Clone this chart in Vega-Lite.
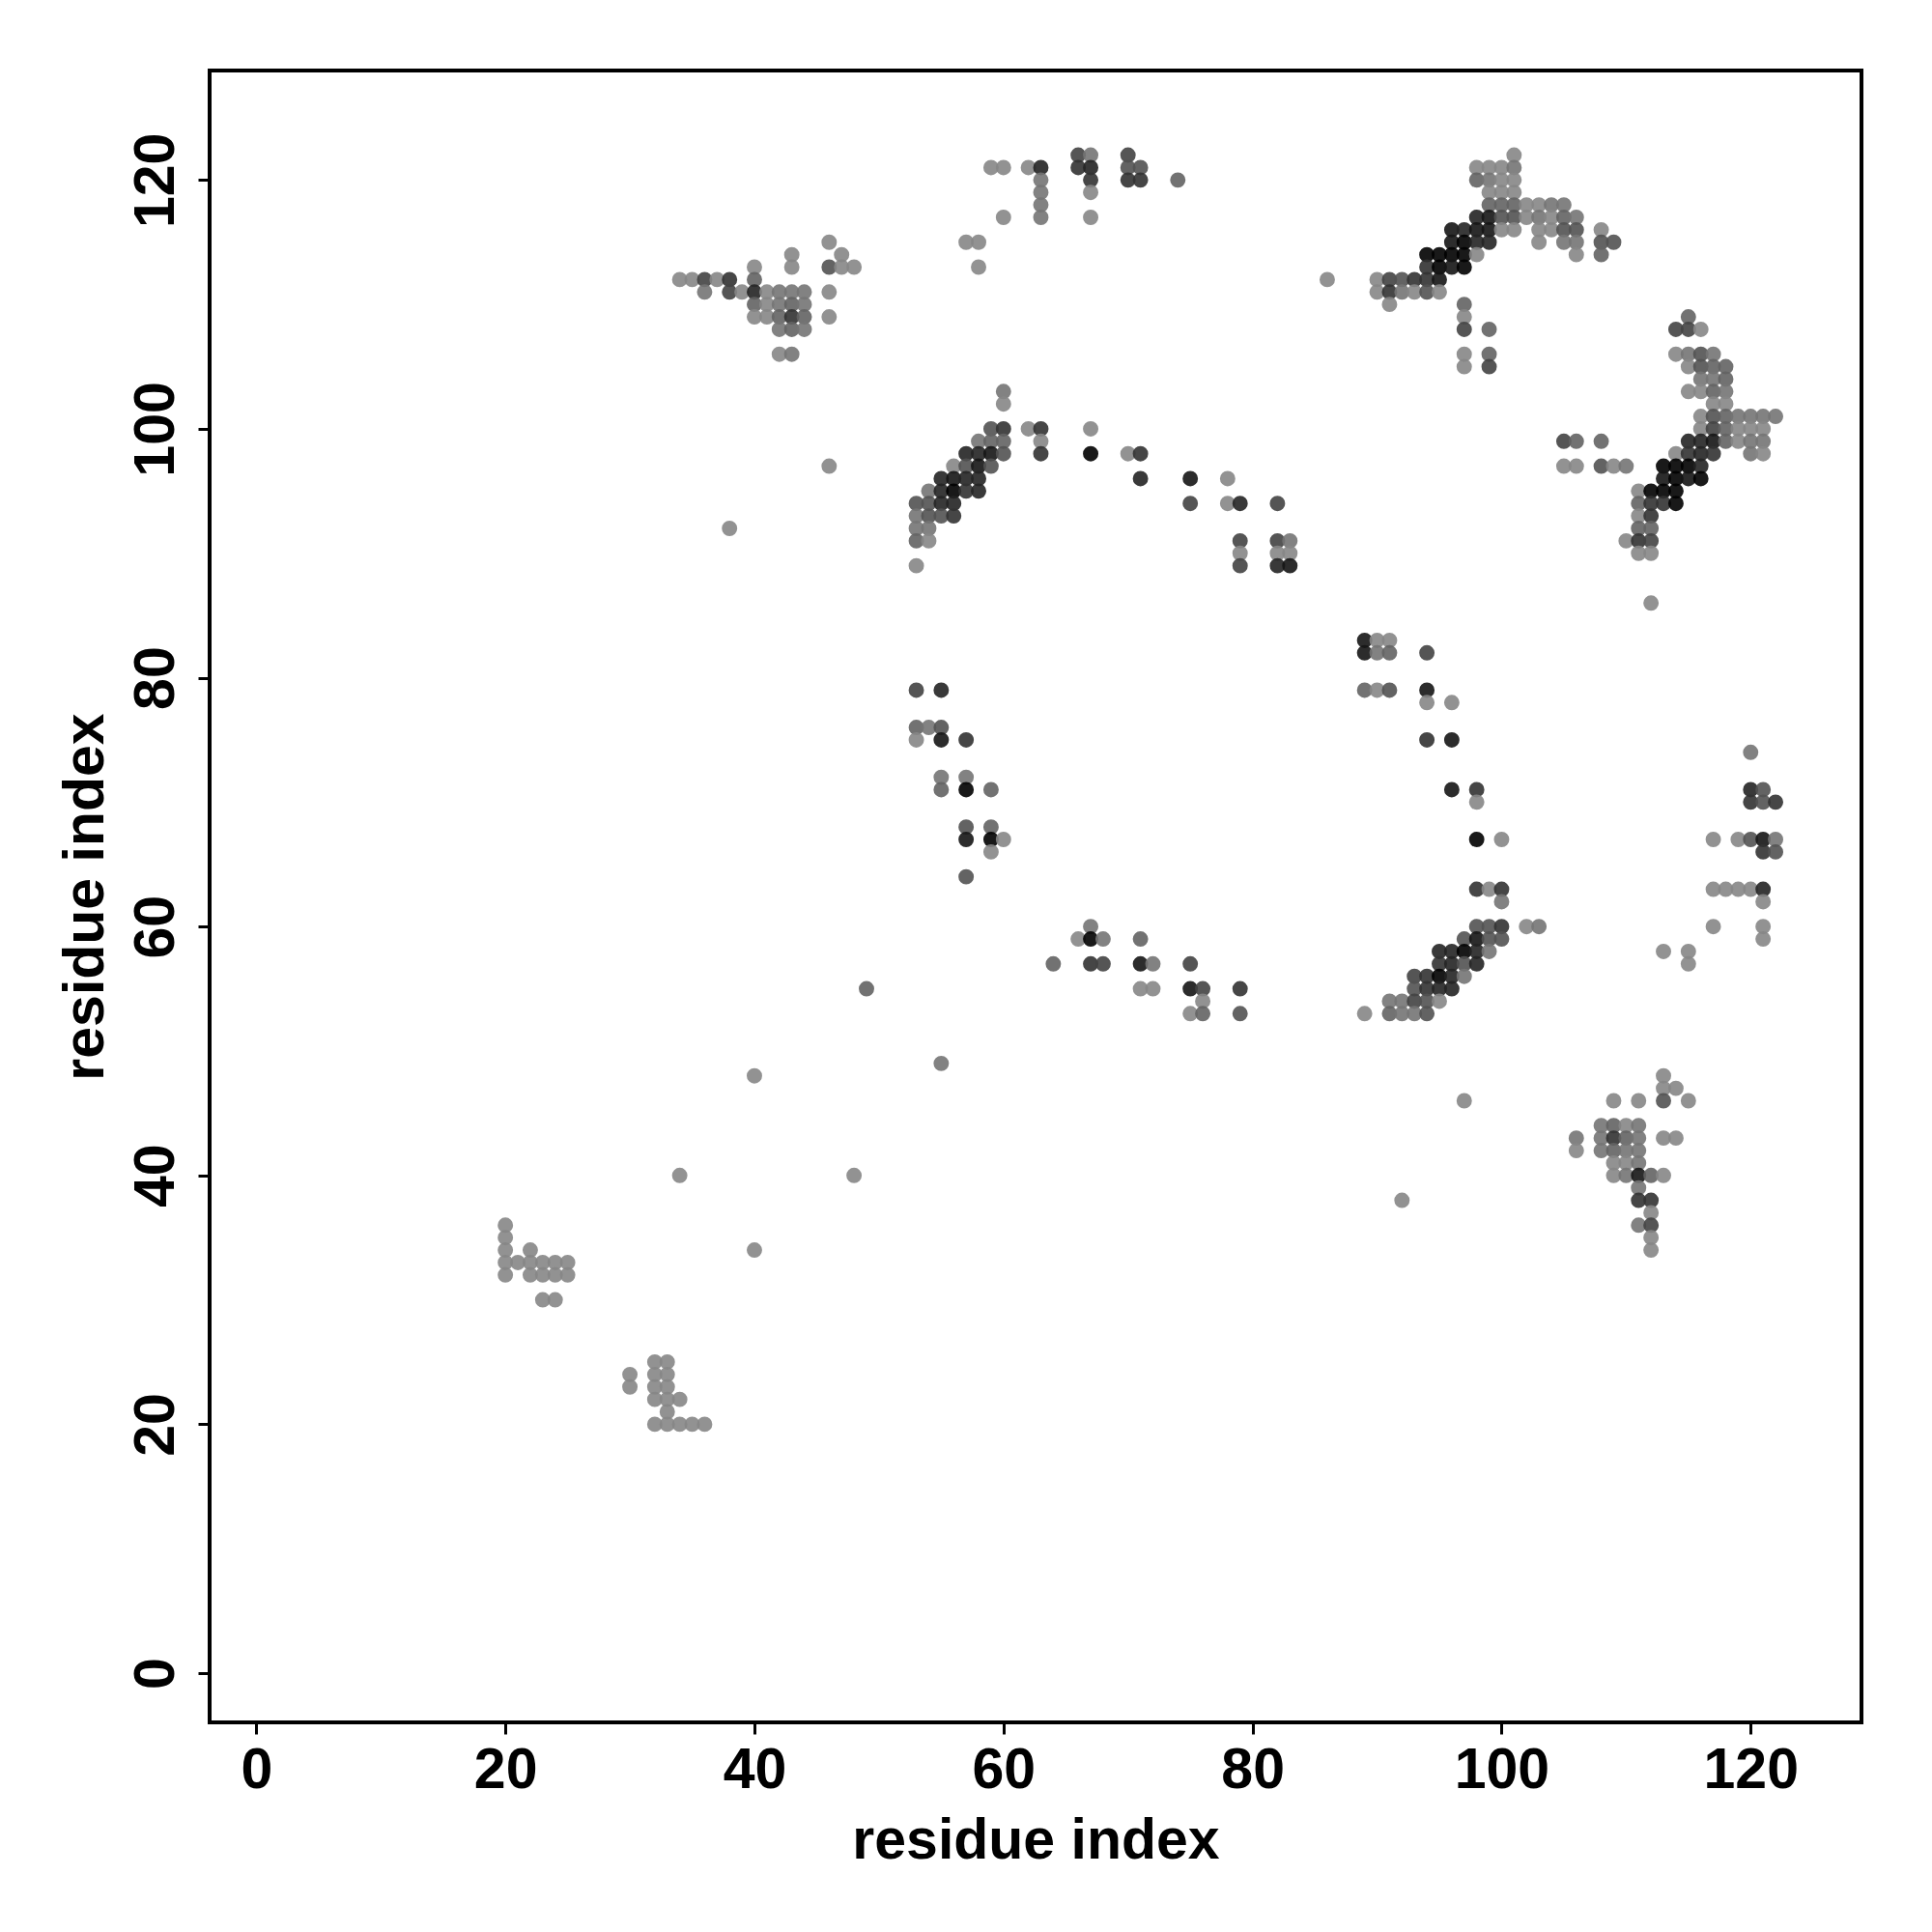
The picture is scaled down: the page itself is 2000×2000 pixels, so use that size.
{"$schema":"https://vega.github.io/schema/vega-lite/v6.json","width":1710,"height":1710,"autosize":{"type":"none"},"padding":{"left":217,"top":73,"right":73,"bottom":217},"background":"white","config":{"view":{"stroke":"black","strokeWidth":4},"font":"Liberation Sans"},
"data":{"values":[
{"x":101,"y":122,"w":1},{"x":98,"y":121,"w":1},{"x":99,"y":121,"w":1},{"x":100,"y":121,"w":1},{"x":101,"y":121,"w":2},{"x":98,"y":120,"w":3},{"x":99,"y":120,"w":2},{"x":100,"y":120,"w":1},{"x":101,"y":120,"w":1},{"x":99,"y":119,"w":1},{"x":100,"y":119,"w":1},{"x":101,"y":119,"w":1},{"x":99,"y":118,"w":3},{"x":100,"y":118,"w":3},{"x":101,"y":118,"w":3},{"x":102,"y":118,"w":1},{"x":103,"y":118,"w":1},{"x":104,"y":118,"w":2},{"x":105,"y":118,"w":2},{"x":98,"y":117,"w":7},{"x":99,"y":117,"w":8},{"x":100,"y":117,"w":4},{"x":101,"y":117,"w":4},{"x":102,"y":117,"w":1},{"x":103,"y":117,"w":2},{"x":104,"y":117,"w":1},{"x":105,"y":117,"w":3},{"x":106,"y":117,"w":2},{"x":96,"y":116,"w":8},{"x":97,"y":116,"w":7},{"x":98,"y":116,"w":8},{"x":99,"y":116,"w":8},{"x":100,"y":116,"w":1},{"x":101,"y":116,"w":1},{"x":103,"y":116,"w":1},{"x":104,"y":116,"w":1},{"x":105,"y":116,"w":4},{"x":106,"y":116,"w":4},{"x":108,"y":116,"w":1},{"x":96,"y":115,"w":8},{"x":97,"y":115,"w":9},{"x":98,"y":115,"w":7},{"x":99,"y":115,"w":7},{"x":103,"y":115,"w":1},{"x":105,"y":115,"w":2},{"x":106,"y":115,"w":2},{"x":108,"y":115,"w":4},{"x":109,"y":115,"w":4},{"x":94,"y":114,"w":9},{"x":95,"y":114,"w":9},{"x":96,"y":114,"w":9},{"x":97,"y":114,"w":9},{"x":98,"y":114,"w":1},{"x":106,"y":114,"w":1},{"x":108,"y":114,"w":3},{"x":94,"y":113,"w":6},{"x":95,"y":113,"w":9},{"x":96,"y":113,"w":8},{"x":97,"y":113,"w":9},{"x":86,"y":112,"w":1},{"x":90,"y":112,"w":1},{"x":91,"y":112,"w":5},{"x":92,"y":112,"w":4},{"x":93,"y":112,"w":6},{"x":94,"y":112,"w":6},{"x":95,"y":112,"w":8},{"x":90,"y":111,"w":1},{"x":91,"y":111,"w":6},{"x":92,"y":111,"w":2},{"x":93,"y":111,"w":1},{"x":94,"y":111,"w":4},{"x":95,"y":111,"w":1},{"x":91,"y":110,"w":1},{"x":97,"y":110,"w":3},{"x":97,"y":109,"w":1},{"x":115,"y":109,"w":3},{"x":97,"y":108,"w":5},{"x":99,"y":108,"w":3},{"x":114,"y":108,"w":5},{"x":115,"y":108,"w":5},{"x":116,"y":108,"w":1},{"x":97,"y":106,"w":1},{"x":99,"y":106,"w":3},{"x":114,"y":106,"w":1},{"x":115,"y":106,"w":2},{"x":116,"y":106,"w":4},{"x":117,"y":106,"w":2},{"x":97,"y":105,"w":1},{"x":99,"y":105,"w":5},{"x":115,"y":105,"w":1},{"x":116,"y":105,"w":4},{"x":117,"y":105,"w":3},{"x":118,"y":105,"w":3},{"x":116,"y":104,"w":2},{"x":117,"y":104,"w":2},{"x":118,"y":104,"w":3},{"x":115,"y":103,"w":1},{"x":116,"y":103,"w":1},{"x":117,"y":103,"w":3},{"x":118,"y":103,"w":2},{"x":117,"y":102,"w":1},{"x":118,"y":102,"w":1},{"x":116,"y":101,"w":1},{"x":117,"y":101,"w":4},{"x":118,"y":101,"w":3},{"x":119,"y":101,"w":2},{"x":120,"y":101,"w":2},{"x":121,"y":101,"w":2},{"x":122,"y":101,"w":2},{"x":116,"y":100,"w":1},{"x":117,"y":100,"w":5},{"x":118,"y":100,"w":3},{"x":119,"y":100,"w":1},{"x":120,"y":100,"w":1},{"x":121,"y":100,"w":1},{"x":105,"y":99,"w":5},{"x":106,"y":99,"w":3},{"x":108,"y":99,"w":3},{"x":115,"y":99,"w":7},{"x":116,"y":99,"w":7},{"x":117,"y":99,"w":8},{"x":118,"y":99,"w":3},{"x":119,"y":99,"w":1},{"x":120,"y":99,"w":2},{"x":121,"y":99,"w":2},{"x":114,"y":98,"w":1},{"x":115,"y":98,"w":6},{"x":116,"y":98,"w":7},{"x":117,"y":98,"w":6},{"x":120,"y":98,"w":2},{"x":121,"y":98,"w":1},{"x":105,"y":97,"w":1},{"x":106,"y":97,"w":1},{"x":108,"y":97,"w":4},{"x":109,"y":97,"w":1},{"x":110,"y":97,"w":2},{"x":113,"y":97,"w":9},{"x":114,"y":97,"w":9},{"x":115,"y":97,"w":9},{"x":116,"y":97,"w":7},{"x":113,"y":96,"w":8},{"x":114,"y":96,"w":9},{"x":115,"y":96,"w":8},{"x":116,"y":96,"w":9},{"x":111,"y":95,"w":1},{"x":112,"y":95,"w":9},{"x":113,"y":95,"w":9},{"x":114,"y":95,"w":9},{"x":111,"y":94,"w":3},{"x":112,"y":94,"w":6},{"x":113,"y":94,"w":6},{"x":114,"y":94,"w":9},{"x":111,"y":93,"w":1},{"x":112,"y":93,"w":6},{"x":111,"y":92,"w":3},{"x":112,"y":92,"w":3},{"x":110,"y":91,"w":1},{"x":111,"y":91,"w":6},{"x":112,"y":91,"w":5},{"x":111,"y":90,"w":1},{"x":112,"y":90,"w":1},{"x":112,"y":86,"w":1},
{"x":60,"y":103,"w":2},{"x":60,"y":102,"w":1},{"x":59,"y":100,"w":4},{"x":60,"y":100,"w":6},{"x":62,"y":100,"w":1},{"x":63,"y":100,"w":6},{"x":67,"y":100,"w":1},{"x":58,"y":99,"w":2},{"x":59,"y":99,"w":3},{"x":60,"y":99,"w":3},{"x":63,"y":99,"w":1},{"x":57,"y":98,"w":7},{"x":58,"y":98,"w":7},{"x":59,"y":98,"w":8},{"x":60,"y":98,"w":4},{"x":63,"y":98,"w":6},{"x":67,"y":98,"w":9},{"x":70,"y":98,"w":1},{"x":71,"y":98,"w":6},{"x":56,"y":97,"w":1},{"x":57,"y":97,"w":4},{"x":58,"y":97,"w":8},{"x":59,"y":97,"w":4},{"x":55,"y":96,"w":7},{"x":56,"y":96,"w":8},{"x":57,"y":96,"w":7},{"x":58,"y":96,"w":7},{"x":71,"y":96,"w":7},{"x":54,"y":95,"w":2},{"x":55,"y":95,"w":7},{"x":56,"y":95,"w":9},{"x":57,"y":95,"w":6},{"x":58,"y":95,"w":7},{"x":53,"y":94,"w":4},{"x":54,"y":94,"w":4},{"x":55,"y":94,"w":7},{"x":56,"y":94,"w":7},{"x":53,"y":93,"w":2},{"x":54,"y":93,"w":4},{"x":55,"y":93,"w":4},{"x":56,"y":93,"w":6},{"x":53,"y":92,"w":2},{"x":54,"y":92,"w":2},{"x":53,"y":91,"w":3},{"x":54,"y":91,"w":1},{"x":53,"y":89,"w":1},
{"x":75,"y":96,"w":8},{"x":78,"y":96,"w":1},{"x":75,"y":94,"w":5},{"x":78,"y":94,"w":1},{"x":79,"y":94,"w":7},{"x":82,"y":94,"w":5},{"x":79,"y":91,"w":5},{"x":82,"y":91,"w":5},{"x":83,"y":91,"w":2},{"x":79,"y":90,"w":1},{"x":82,"y":90,"w":1},{"x":83,"y":90,"w":1},{"x":79,"y":89,"w":5},{"x":82,"y":89,"w":7},{"x":83,"y":89,"w":8},{"x":38,"y":92,"w":1},{"x":46,"y":97,"w":1},
{"x":46,"y":115,"w":1},{"x":47,"y":114,"w":1},{"x":43,"y":114,"w":1},{"x":40,"y":113,"w":1},{"x":43,"y":113,"w":1},{"x":46,"y":113,"w":4},{"x":47,"y":113,"w":1},{"x":48,"y":113,"w":1},{"x":34,"y":112,"w":1},{"x":35,"y":112,"w":1},{"x":36,"y":112,"w":5},{"x":37,"y":112,"w":1},{"x":38,"y":112,"w":6},{"x":40,"y":112,"w":3},{"x":36,"y":111,"w":2},{"x":38,"y":111,"w":5},{"x":39,"y":111,"w":1},{"x":40,"y":111,"w":7},{"x":41,"y":111,"w":1},{"x":42,"y":111,"w":2},{"x":43,"y":111,"w":2},{"x":44,"y":111,"w":2},{"x":46,"y":111,"w":1},{"x":40,"y":110,"w":3},{"x":41,"y":110,"w":1},{"x":42,"y":110,"w":2},{"x":43,"y":110,"w":3},{"x":44,"y":110,"w":2},{"x":40,"y":109,"w":1},{"x":41,"y":109,"w":1},{"x":42,"y":109,"w":3},{"x":43,"y":109,"w":6},{"x":44,"y":109,"w":3},{"x":46,"y":109,"w":1},{"x":42,"y":108,"w":2},{"x":43,"y":108,"w":3},{"x":44,"y":108,"w":2},{"x":42,"y":106,"w":1},{"x":43,"y":106,"w":2},
{"x":98,"y":63,"w":6},{"x":99,"y":63,"w":1},{"x":100,"y":63,"w":6},{"x":100,"y":62,"w":2},{"x":98,"y":60,"w":4},{"x":99,"y":60,"w":4},{"x":100,"y":60,"w":6},{"x":102,"y":60,"w":1},{"x":103,"y":60,"w":2},{"x":97,"y":59,"w":4},{"x":98,"y":59,"w":8},{"x":99,"y":59,"w":4},{"x":100,"y":59,"w":4},{"x":95,"y":58,"w":7},{"x":96,"y":58,"w":7},{"x":97,"y":58,"w":9},{"x":98,"y":58,"w":7},{"x":99,"y":58,"w":2},{"x":95,"y":57,"w":6},{"x":96,"y":57,"w":7},{"x":97,"y":57,"w":4},{"x":98,"y":57,"w":7},{"x":93,"y":56,"w":5},{"x":94,"y":56,"w":6},{"x":95,"y":56,"w":9},{"x":96,"y":56,"w":7},{"x":97,"y":56,"w":2},{"x":93,"y":55,"w":4},{"x":94,"y":55,"w":6},{"x":95,"y":55,"w":7},{"x":96,"y":55,"w":7},{"x":91,"y":54,"w":2},{"x":92,"y":54,"w":2},{"x":93,"y":54,"w":5},{"x":94,"y":54,"w":4},{"x":95,"y":54,"w":1},{"x":89,"y":53,"w":1},{"x":91,"y":53,"w":3},{"x":92,"y":53,"w":2},{"x":93,"y":53,"w":2},{"x":94,"y":53,"w":4},
{"x":113,"y":48,"w":1},{"x":113,"y":47,"w":1},{"x":114,"y":47,"w":1},{"x":109,"y":46,"w":1},{"x":111,"y":46,"w":1},{"x":113,"y":46,"w":4},{"x":115,"y":46,"w":1},{"x":108,"y":44,"w":2},{"x":109,"y":44,"w":3},{"x":110,"y":44,"w":1},{"x":111,"y":44,"w":2},{"x":106,"y":43,"w":2},{"x":108,"y":43,"w":2},{"x":109,"y":43,"w":6},{"x":110,"y":43,"w":3},{"x":111,"y":43,"w":2},{"x":113,"y":43,"w":1},{"x":114,"y":43,"w":1},{"x":106,"y":42,"w":1},{"x":108,"y":42,"w":2},{"x":109,"y":42,"w":3},{"x":110,"y":42,"w":2},{"x":111,"y":42,"w":2},{"x":109,"y":41,"w":1},{"x":110,"y":41,"w":1},{"x":111,"y":41,"w":2},{"x":109,"y":40,"w":1},{"x":110,"y":40,"w":2},{"x":111,"y":40,"w":8},{"x":112,"y":40,"w":3},{"x":113,"y":40,"w":1},{"x":111,"y":39,"w":2},{"x":111,"y":38,"w":6},{"x":112,"y":38,"w":6},{"x":112,"y":37,"w":1},{"x":111,"y":36,"w":2},{"x":112,"y":36,"w":5},{"x":112,"y":35,"w":1},{"x":112,"y":34,"w":1},
{"x":20,"y":36,"w":1},{"x":20,"y":35,"w":1},{"x":20,"y":34,"w":1},{"x":22,"y":34,"w":1},{"x":20,"y":33,"w":1},{"x":21,"y":33,"w":1},{"x":22,"y":33,"w":1},{"x":23,"y":33,"w":1},{"x":24,"y":33,"w":1},{"x":25,"y":33,"w":1},{"x":20,"y":32,"w":1},{"x":22,"y":32,"w":1},{"x":23,"y":32,"w":1},{"x":24,"y":32,"w":1},{"x":25,"y":32,"w":1},{"x":23,"y":30,"w":1},{"x":24,"y":30,"w":1},{"x":32,"y":25,"w":1},{"x":33,"y":25,"w":1},{"x":30,"y":24,"w":1},{"x":32,"y":24,"w":1},{"x":33,"y":24,"w":1},{"x":30,"y":23,"w":1},{"x":32,"y":23,"w":1},{"x":33,"y":23,"w":1},{"x":32,"y":22,"w":1},{"x":33,"y":22,"w":1},{"x":34,"y":22,"w":1},{"x":33,"y":21,"w":1},{"x":32,"y":20,"w":1},{"x":33,"y":20,"w":1},{"x":34,"y":20,"w":1},{"x":35,"y":20,"w":1},{"x":36,"y":20,"w":1},
{"x":59,"y":121,"w":1},{"x":60,"y":121,"w":1},{"x":62,"y":121,"w":1},{"x":63,"y":121,"w":7},{"x":63,"y":120,"w":2},{"x":63,"y":119,"w":2},{"x":63,"y":118,"w":2},{"x":63,"y":117,"w":2},{"x":66,"y":122,"w":5},{"x":67,"y":122,"w":2},{"x":66,"y":121,"w":6},{"x":67,"y":121,"w":7},{"x":67,"y":120,"w":6},{"x":67,"y":119,"w":1},{"x":67,"y":117,"w":1},{"x":70,"y":122,"w":5},{"x":70,"y":121,"w":4},{"x":71,"y":121,"w":4},{"x":70,"y":120,"w":6},{"x":71,"y":120,"w":6},{"x":74,"y":120,"w":3},{"x":60,"y":117,"w":1},{"x":57,"y":115,"w":1},{"x":58,"y":115,"w":1},{"x":58,"y":113,"w":1},
{"x":49,"y":55,"w":3},{"x":55,"y":49,"w":2},{"x":40,"y":48,"w":1},{"x":34,"y":40,"w":1},{"x":48,"y":40,"w":1},{"x":40,"y":34,"w":1},{"x":92,"y":38,"w":1},{"x":97,"y":46,"w":1},
{"x":53,"y":79,"w":5},{"x":55,"y":79,"w":7},{"x":53,"y":76,"w":3},{"x":54,"y":76,"w":2},{"x":55,"y":76,"w":4},{"x":53,"y":75,"w":1},{"x":55,"y":75,"w":8},{"x":57,"y":75,"w":6},{"x":55,"y":72,"w":2},{"x":57,"y":72,"w":2},{"x":55,"y":71,"w":3},{"x":57,"y":71,"w":9},{"x":59,"y":71,"w":3},{"x":57,"y":68,"w":4},{"x":59,"y":68,"w":3},{"x":57,"y":67,"w":8},{"x":59,"y":67,"w":9},{"x":60,"y":67,"w":1},{"x":59,"y":66,"w":1},{"x":57,"y":64,"w":4},
{"x":64,"y":57,"w":3},{"x":66,"y":59,"w":1},{"x":67,"y":60,"w":2},{"x":67,"y":59,"w":9},{"x":68,"y":59,"w":2},{"x":67,"y":57,"w":6},{"x":68,"y":57,"w":5},{"x":71,"y":59,"w":3},{"x":71,"y":57,"w":8},{"x":72,"y":57,"w":2},{"x":71,"y":55,"w":1},{"x":72,"y":55,"w":1},{"x":75,"y":57,"w":5},{"x":75,"y":55,"w":8},{"x":76,"y":55,"w":5},{"x":76,"y":54,"w":1},{"x":75,"y":53,"w":1},{"x":76,"y":53,"w":3},{"x":79,"y":55,"w":6},{"x":79,"y":53,"w":4},
{"x":89,"y":83,"w":8},{"x":90,"y":83,"w":1},{"x":91,"y":83,"w":1},{"x":89,"y":82,"w":8},{"x":90,"y":82,"w":2},{"x":91,"y":82,"w":3},{"x":94,"y":82,"w":5},{"x":89,"y":79,"w":3},{"x":90,"y":79,"w":1},{"x":91,"y":79,"w":4},{"x":94,"y":79,"w":8},{"x":94,"y":78,"w":1},{"x":96,"y":78,"w":1},{"x":94,"y":75,"w":6},{"x":96,"y":75,"w":8},{"x":96,"y":71,"w":8},{"x":98,"y":71,"w":6},{"x":98,"y":70,"w":1},{"x":98,"y":67,"w":9},{"x":100,"y":67,"w":1},
{"x":120,"y":74,"w":2},{"x":120,"y":71,"w":7},{"x":121,"y":71,"w":4},{"x":120,"y":70,"w":6},{"x":121,"y":70,"w":4},{"x":122,"y":70,"w":6},{"x":117,"y":67,"w":1},{"x":119,"y":67,"w":1},{"x":120,"y":67,"w":4},{"x":121,"y":67,"w":8},{"x":122,"y":67,"w":2},{"x":121,"y":66,"w":6},{"x":122,"y":66,"w":4},{"x":117,"y":63,"w":1},{"x":118,"y":63,"w":1},{"x":119,"y":63,"w":1},{"x":120,"y":63,"w":1},{"x":121,"y":63,"w":7},{"x":121,"y":62,"w":1},{"x":117,"y":60,"w":1},{"x":121,"y":60,"w":1},{"x":121,"y":59,"w":1},{"x":113,"y":58,"w":1},{"x":115,"y":58,"w":1},{"x":115,"y":57,"w":1}
]},
"mark":{"type":"circle","size":254,"opacity":0.9},
"encoding":{
"x":{"field":"x","type":"quantitative","scale":{"domain":[-3.75,128.9],"nice":false,"zero":false},"axis":{"title":"residue index","values":[0,20,40,60,80,100,120],"grid":false,"domain":false,"tickColor":"black","tickWidth":3,"tickSize":12,"labelFontSize":59,"labelFontWeight":"bold","labelColor":"black","labelFont":"Liberation Sans","labelPadding":8,"titleFont":"Liberation Sans","titleFontSize":59,"titleFontWeight":"bold","titleColor":"black","titlePadding":14,"labelFlush":false}},
"y":{"field":"y","type":"quantitative","scale":{"domain":[-3.96,128.8],"nice":false,"zero":false},"axis":{"title":"residue index","values":[0,20,40,60,80,100,120],"grid":false,"domain":false,"tickColor":"black","tickWidth":3,"tickSize":12,"labelFontSize":59,"labelFontWeight":"bold","labelColor":"black","labelFont":"Liberation Sans","labelAngle":-90,"labelAlign":"center","labelBaseline":"bottom","labelPadding":14,"titleFont":"Liberation Sans","titleFontSize":59,"titleFontWeight":"bold","titleColor":"black","titlePadding":14,"labelFlush":false}},
"color":{"field":"w","type":"quantitative","legend":null,"scale":{"domain":[1,9],"range":["#868686","#000000"]}}
}}
